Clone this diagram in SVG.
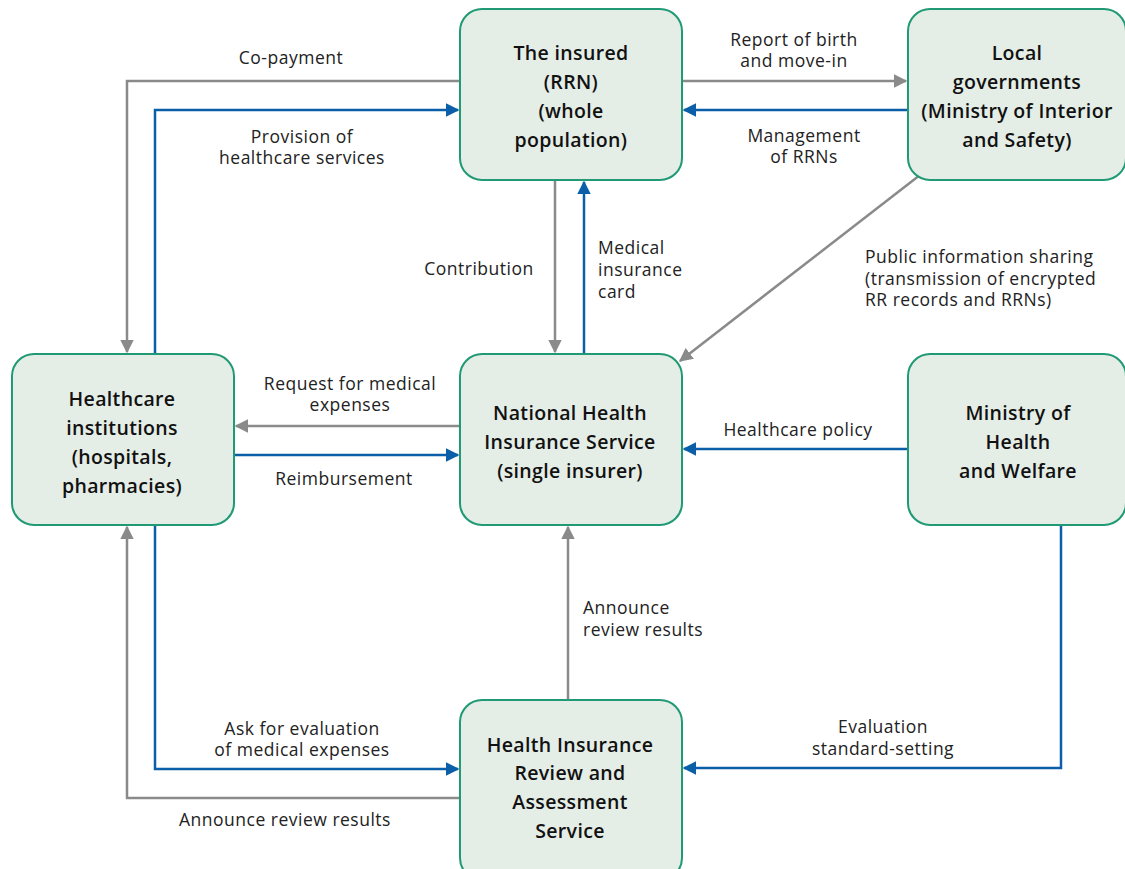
<svg xmlns="http://www.w3.org/2000/svg" width="1125" height="869" viewBox="0 0 1125 869">
<style>
.node rect{fill:#e4ede6;stroke:#1f9a74;stroke-width:2}
.node text{font-family:"Open Sans","Noto Sans",sans-serif;font-size:19.5px;font-weight:600;letter-spacing:0.35px;fill:#111;text-anchor:middle}
.lbl{font-family:"Open Sans","Noto Sans",sans-serif;font-size:17.5px;letter-spacing:0.5px;fill:#222}
.c{text-anchor:middle}
.g{fill:none;stroke:#8a8a8a;stroke-width:2.5}
.b{fill:none;stroke:#0a5fa8;stroke-width:2.5}
</style>
<defs>
<marker id="ag" viewBox="0 0 10 10" refX="9" refY="5" markerWidth="5.5" markerHeight="5.5" orient="auto" markerUnits="strokeWidth"><path d="M0,0 L10,5 L0,10 z" fill="#8a8a8a"/></marker>
<marker id="ab" viewBox="0 0 10 10" refX="9" refY="5" markerWidth="5.5" markerHeight="5.5" orient="auto" markerUnits="strokeWidth"><path d="M0,0 L10,5 L0,10 z" fill="#0a5fa8"/></marker>
</defs>
<rect width="1125" height="869" fill="#fff"/>
<g id="connectors">
<path class="g" d="M460,81 H127 V352" marker-end="url(#ag)"/>
<path class="b" d="M155,354 V110 H458" marker-end="url(#ab)"/>
<path class="g" d="M682,81 H906" marker-end="url(#ag)"/>
<path class="b" d="M908,110 H684" marker-end="url(#ab)"/>
<path class="g" d="M555,180 V352" marker-end="url(#ag)"/>
<path class="b" d="M584,354 V182" marker-end="url(#ab)"/>
<path class="g" d="M920,175 L680,361" marker-end="url(#ag)"/>
<path class="g" d="M460,426 H236" marker-end="url(#ag)"/>
<path class="b" d="M234,455 H458" marker-end="url(#ab)"/>
<path class="b" d="M908,449 H684" marker-end="url(#ab)"/>
<path class="g" d="M568,700 V527" marker-end="url(#ag)"/>
<path class="b" d="M1061,525 V768 H684" marker-end="url(#ab)"/>
<path class="b" d="M155,525 V769 H458" marker-end="url(#ab)"/>
<path class="g" d="M460,798 H127 V527" marker-end="url(#ag)"/>
<text class="lbl c" x="291" y="64">Co-payment</text>
<text class="lbl c" x="302" y="143">Provision of</text>
<text class="lbl c" x="302" y="164">healthcare services</text>
<text class="lbl c" x="794" y="46">Report of birth</text>
<text class="lbl c" x="794" y="67">and move-in</text>
<text class="lbl c" x="804" y="142">Management</text>
<text class="lbl c" x="804" y="163">of RRNs</text>
<text class="lbl c" x="479" y="275">Contribution</text>
<text class="lbl" x="598" y="254">Medical</text>
<text class="lbl" x="598" y="276">insurance</text>
<text class="lbl" x="598" y="298">card</text>
<text class="lbl" x="865" y="263">Public information sharing</text>
<text class="lbl" x="865" y="285">(transmission of encrypted</text>
<text class="lbl" x="865" y="306">RR records and RRNs)</text>
<text class="lbl c" x="350" y="390">Request for medical</text>
<text class="lbl c" x="350" y="411">expenses</text>
<text class="lbl c" x="344" y="485">Reimbursement</text>
<text class="lbl c" x="798" y="436">Healthcare policy</text>
<text class="lbl" x="583" y="614">Announce</text>
<text class="lbl" x="583" y="636">review results</text>
<text class="lbl c" x="883" y="733">Evaluation</text>
<text class="lbl c" x="883" y="755">standard-setting</text>
<text class="lbl c" x="302" y="735">Ask for evaluation</text>
<text class="lbl c" x="302" y="756">of medical expenses</text>
<text class="lbl c" x="285" y="826">Announce review results</text>
</g>
<g id="insured" class="node"><rect x="460" y="9" width="222" height="171" rx="22"/>
<text x="571" y="60">The insured</text><text x="571" y="89">(RRN)</text><text x="571" y="118">(whole</text><text x="571" y="147">population)</text></g>
<g id="localgov" class="node"><rect x="908" y="9" width="218" height="171" rx="22"/>
<text x="1017" y="60">Local</text><text x="1017" y="89">governments</text><text x="1017" y="118">(Ministry of Interior</text><text x="1017" y="147">and Safety)</text></g>
<g id="healthcare" class="node"><rect x="12" y="354" width="222" height="171" rx="22"/>
<text x="122" y="406">Healthcare</text><text x="122" y="435">institutions</text><text x="122" y="464">(hospitals,</text><text x="122" y="493">pharmacies)</text></g>
<g id="nhis" class="node"><rect x="460" y="354" width="222" height="171" rx="22"/>
<text x="570" y="420">National Health</text><text x="570" y="449">Insurance Service</text><text x="570" y="478">(single insurer)</text></g>
<g id="mohw" class="node"><rect x="908" y="354" width="218" height="171" rx="22"/>
<text x="1018" y="420">Ministry of</text><text x="1018" y="449">Health</text><text x="1018" y="478">and Welfare</text></g>
<g id="hira" class="node"><rect x="460" y="700" width="222" height="180" rx="22"/>
<text x="570" y="752">Health Insurance</text><text x="570" y="780">Review and</text><text x="570" y="809">Assessment</text><text x="570" y="838">Service</text></g>
</svg>
